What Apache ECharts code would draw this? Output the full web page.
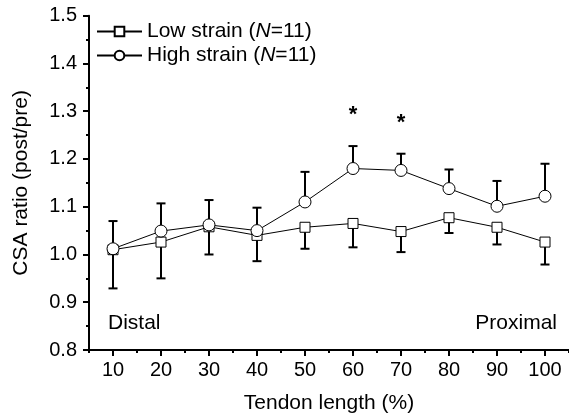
<!DOCTYPE html>
<html><head><meta charset="utf-8">
<script src="https://cdn.jsdelivr.net/npm/echarts@6/dist/echarts.min.js"></script>
<style>html,body{margin:0;padding:0;background:#fff}#c{width:569px;height:419px}</style>
</head><body><div id="c"></div>
<script>
var tendonLength = [10, 20, 30, 40, 50, 60, 70, 80, 90, 100];
var lowMean  = [1.010, 1.026, 1.058, 1.040, 1.057, 1.065, 1.048, 1.077, 1.057, 1.026];
var lowSD    = [0.081, 0.076, 0.058, 0.054, 0.045, 0.050, 0.043, 0.032, 0.036, 0.047];
var highMean = [1.012, 1.049, 1.062, 1.050, 1.110, 1.180, 1.176, 1.138, 1.101, 1.122];
var highSD   = [0.058, 0.058, 0.052, 0.048, 0.063, 0.047, 0.035, 0.040, 0.053, 0.068];
var starX = [60, 70];
var starY = [1.305, 1.288];
var xTicks = [10, 20, 30, 40, 50, 60, 70, 80, 90, 100];
var xMinorTicks = [5, 15, 25, 35, 45, 55, 65, 75, 85, 95, 105];
var seriesNames = ['Low strain (N=11)', 'High strain (N=11)'];

var FONT = 'Liberation Sans, Arial, Helvetica, sans-serif';
var chart = echarts.init(document.getElementById('c'), null, {renderer: 'canvas'});

function pairs(xs, ys) { return xs.map(function (x, i) { return [x, ys[i]]; }); }

function errData(means, sds, dir) {
  return tendonLength.map(function (x, i) { return [x, means[i], means[i] + dir * sds[i]]; });
}
function errRender(params, api) {
  var x = api.value(0);
  var p0 = api.coord([x, api.value(1)]);
  var p1 = api.coord([x, api.value(2)]);
  var hw = 4.5;
  var st = {stroke: '#000', lineWidth: 2};
  return {type: 'group', children: [
    {type: 'line', shape: {x1: p0[0], y1: p0[1], x2: p1[0], y2: p1[1]}, style: st},
    {type: 'line', shape: {x1: p1[0] - hw, y1: p1[1], x2: p1[0] + hw, y2: p1[1]}, style: st}
  ]};
}

var axisLine = {show: true, lineStyle: {color: '#000', width: 2}};
var option = {
  animation: false,
  textStyle: {fontFamily: FONT},
  grid: {left: 89, right: 0, top: 15.7, bottom: 68, containLabel: false},
  legend: {
    orient: 'vertical', left: 96, top: 21, itemGap: 3, padding: 0,
    itemWidth: 45, itemHeight: 12,
    data: seriesNames,
    textStyle: {fontSize: 21, color: '#000', fontFamily: FONT, lineHeight: 20,
      rich: {i: {fontStyle: 'italic', fontSize: 21, fontFamily: FONT, color: '#000', lineHeight: 20}}},
    formatter: function (name) { return name.replace('(N=', '({i|N}='); }
  },
  xAxis: [{
    type: 'value', min: 5, max: 105,
    name: 'Tendon length (%)', nameLocation: 'middle', nameGap: 43,
    nameTextStyle: {fontSize: 21, color: '#000', fontFamily: FONT},
    axisLine: axisLine,
    axisTick: {show: true, length: 6, lineStyle: {width: 2, color: '#000'}, customValues: xTicks},
    axisLabel: {fontSize: 20, color: '#000', margin: 10, customValues: xTicks, fontFamily: FONT},
    splitLine: {show: false}
  }, {
    type: 'value', min: 5, max: 105, position: 'bottom',
    axisLine: {show: false},
    axisTick: {show: true, length: 3, lineStyle: {width: 2, color: '#000'}, customValues: xMinorTicks},
    axisLabel: {show: false},
    splitLine: {show: false}
  }],
  yAxis: {
    type: 'value', min: 0.8, max: 1.5, interval: 0.1,
    name: 'CSA ratio (post/pre)', nameLocation: 'middle', nameGap: 57,
    nameTextStyle: {fontSize: 21, color: '#000', fontFamily: FONT},
    axisLine: axisLine,
    axisTick: {show: true, length: 6, lineStyle: {width: 2, color: '#000'}},
    minorTick: {show: true, splitNumber: 2, length: 3, lineStyle: {width: 2, color: '#000'}},
    axisLabel: {fontSize: 20, color: '#000', margin: 12, fontFamily: FONT,
      formatter: function (v) { return v.toFixed(1); }},
    splitLine: {show: false}
  },
  series: [
    {type: 'custom', name: 'lowErr', renderItem: errRender, data: errData(lowMean, lowSD, -1), z: 1},
    {type: 'custom', name: 'highErr', renderItem: errRender, data: errData(highMean, highSD, 1), z: 1},
    {type: 'line', name: seriesNames[0], data: pairs(tendonLength, lowMean), z: 3,
      symbol: 'rect', symbolSize: 10, showSymbol: true,
      lineStyle: {color: '#000', width: 1},
      itemStyle: {color: '#fff', borderColor: '#000', borderWidth: 1}},
    {type: 'line', name: seriesNames[1], data: pairs(tendonLength, highMean), z: 4,
      symbol: 'circle', symbolSize: 12, showSymbol: true,
      lineStyle: {color: '#000', width: 1},
      itemStyle: {color: '#fff', borderColor: '#000', borderWidth: 1}},
    {type: 'custom', name: 'stars', data: pairs(starX, starY), z: 5,
      renderItem: function (params, api) {
        var p = api.coord([api.value(0), api.value(1)]);
        return {type: 'text', style: {text: '*', x: p[0], y: p[1] + 6, align: 'center', verticalAlign: 'middle',
          font: 'bold 22px ' + FONT, fill: '#000'}};
      }}
  ],
  graphic: [
    {type: 'text', left: 108, top: 313, style: {text: 'Distal', font: '21px ' + FONT, fill: '#000'}},
    {type: 'text', right: 12, top: 313, style: {text: 'Proximal', font: '21px ' + FONT, fill: '#000'}}
  ]
};
chart.setOption(option);
</script></body></html>
